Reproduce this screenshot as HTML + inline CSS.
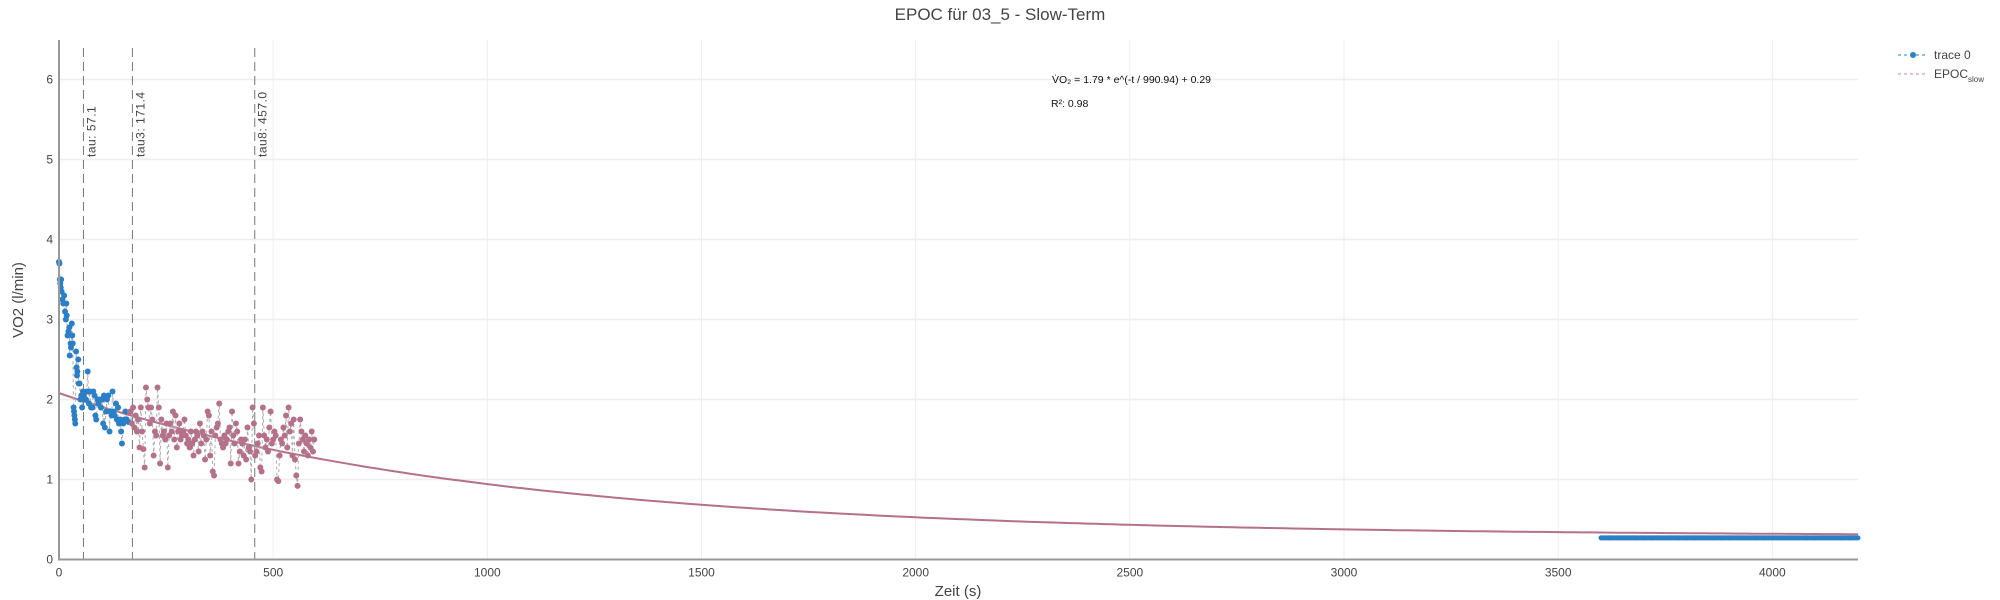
<!DOCTYPE html>
<html><head><meta charset="utf-8"><style>
html,body{margin:0;padding:0;background:#fff;}
svg{display:block;font-family:"Liberation Sans",sans-serif;}
svg text{font-family:"Liberation Sans",sans-serif;}
</style></head><body>
<svg id="chart" width="2000" height="600" viewBox="0 0 2000 600">
<text x="1000" y="20" text-anchor="middle" font-size="17" fill="#444">EPOC für 03_5 - Slow-Term</text>
<g id="grid"></g>
<g id="fit"></g>
<g id="taus"></g>
<g id="series"></g>
<g id="axes"></g>
<text x="1052" y="83" font-size="10.5" fill="#111">V̇O₂ = 1.79 * e^(-t / 990.94) + 0.29</text>
<text x="1051" y="107" font-size="10.5" fill="#111">R²: 0.98</text>
<text x="23" y="300" font-size="15" fill="#444" text-anchor="middle" transform="rotate(-90 23 300)">VO2 (l/min)</text>
<text x="958" y="596" font-size="15" fill="#444" text-anchor="middle">Zeit (s)</text>
<g>
 <g>
  <line x1="1898" y1="55" x2="1928" y2="55" stroke="#2b7fc6" stroke-dasharray="3,3" stroke-width="1"/>
  <circle cx="1913" cy="55" r="3" fill="#2b7fc6"/>
  <text x="1934" y="59" font-size="12" fill="#444">trace 0</text>
 </g>
 <g>
  <line x1="1898" y1="74" x2="1928" y2="74" stroke="#c9879f" stroke-dasharray="3,3" stroke-width="1"/>
  <text x="1934" y="78" font-size="12" fill="#444">EPOC<tspan font-size="8" dy="4">slow</tspan></text>
 </g>
</g>
</svg>
<script>
const xTicks=[0,500,1000,1500,2000,2500,3000,3500,4000];
const yTicks=[0,1,2,3,4,5,6];
const tauValues=[57.1,171.4,457.0];
const tauLabels=["tau: 57.1","tau3: 171.4","tau8: 457.0"];
const fitParams=[1.79,990.94,0.29];
const blueT=[0,1,2,3,4,5,6,8,10,12,14,16,17,18,20,22,24,25,27,28,30,31,32,34,35,36,37,38,40,41,42,43,45,46,48,50,52,54,56,58,60,63,65,67,70,72,75,78,80,83,85,87,90,92,95,98,100,103,105,107,110,112,115,118,120,123,125,128,130,133,135,138,140,143,145,147,150,153,155,158,162];
const blueV=[3.72,3.7,3.5,3.45,3.4,3.5,3.35,3.25,3.2,3.3,3.1,3.0,3.2,3.05,2.8,2.85,2.9,2.55,2.7,2.65,2.95,2.8,2.7,1.9,1.85,1.8,1.75,1.7,2.6,2.4,2.3,2.35,2.5,2.2,2.2,2.0,2.05,1.9,2.1,2.05,2.0,2.0,2.1,2.35,1.95,2.1,1.9,1.9,2.1,2.05,1.8,1.75,2.0,1.95,2.0,1.9,2.0,1.7,2.05,1.65,1.85,2.0,2.05,1.6,1.85,1.8,2.1,1.85,1.8,1.95,1.75,1.9,1.7,1.75,1.6,1.45,1.7,1.75,1.85,1.75,1.72];
const pinkT=[166,170,173,176,179,182,185,188,191,194,197,200,203,206,209,212,215,218,221,224,227,230,233,236,239,242,245,248,251,254,257,260,263,266,269,272,275,278,281,284,287,290,293,296,299,302,305,308,311,314,317,320,323,326,329,332,335,338,341,344,347,350,353,356,359,362,365,368,371,374,377,380,383,386,389,392,395,398,401,404,407,410,413,416,419,422,425,428,431,434,437,440,443,446,449,452,455,458,461,464,467,470,473,476,479,482,485,488,491,494,497,500,503,506,509,512,515,518,521,524,527,530,533,536,539,542,545,548,551,554,557,560,563,566,569,572,575,578,581,584,587,590,593,596];
const pinkV=[1.85,1.7,1.9,1.65,1.8,1.6,1.75,1.4,1.9,1.6,1.38,1.15,2.15,2.0,1.9,1.7,1.9,1.75,1.3,1.6,1.55,2.15,1.9,1.2,1.75,1.55,1.6,1.5,1.7,1.15,1.55,1.7,1.6,1.85,1.5,1.8,1.4,1.6,1.7,1.5,1.55,1.6,1.75,1.55,1.45,1.5,1.4,1.6,1.45,1.3,1.5,1.6,1.55,1.35,1.7,1.45,1.6,1.55,1.25,1.5,1.85,1.8,1.3,1.6,1.1,1.05,1.55,1.65,1.7,1.95,1.5,1.45,1.4,1.55,1.45,1.5,1.6,1.65,1.2,1.85,1.55,1.45,1.7,1.6,1.2,1.35,1.5,1.45,1.3,1.5,1.25,1.65,1.4,1.35,1.0,1.9,1.7,1.3,1.35,1.45,1.55,1.15,1.1,1.9,1.55,1.4,1.5,1.35,1.65,1.85,1.45,1.5,1.6,1.55,1.0,0.98,1.3,1.5,1.45,1.65,1.55,1.8,1.4,1.9,1.6,1.7,1.3,1.75,1.25,1.05,0.92,1.45,1.75,1.6,1.5,1.35,1.55,1.45,1.3,1.5,1.4,1.6,1.35,1.5];
const tailT=[3600,3620,3640,3660,3680,3700,3720,3740,3760,3780,3800,3820,3840,3860,3880,3900,3920,3940,3960,3980,4000,4020,4040,4060,4080,4100,4120,4140,4160,4180,4200];
const tailV=[0.27,0.27,0.27,0.27,0.27,0.27,0.27,0.27,0.27,0.27,0.27,0.27,0.27,0.27,0.27,0.27,0.27,0.27,0.27,0.27,0.27,0.27,0.27,0.27,0.27,0.27,0.27,0.27,0.27,0.27,0.27];

const X0=59,X1=1858,XMAX=4200,Y0=559.5,PPU=80,NS="http://www.w3.org/2000/svg";
const sx=t=>X0+(t/XMAX)*(X1-X0);
const sy=v=>Y0-v*PPU;
function mk(tag,attrs,parent){const e=document.createElementNS(NS,tag);for(const k in attrs)e.setAttribute(k,attrs[k]);parent.appendChild(e);return e;}
const grid=document.getElementById('grid'),axes=document.getElementById('axes'),series=document.getElementById('series'),taus=document.getElementById('taus'),fit=document.getElementById('fit');
xTicks.forEach(t=>{
 const l=mk('line',{x1:sx(t),x2:sx(t),y1:40,y2:Y0,stroke:'#eee','stroke-width':1},grid);
 
 
 const tx=mk('text',{x:sx(t),y:Y0+17,'text-anchor':'middle','font-size':12,fill:'#444'},axes);
 tx.textContent=t;
 
 
});
yTicks.forEach(v=>{
 const l=mk('line',{x1:X0,x2:X1,y1:sy(v),y2:sy(v),stroke:'#eee','stroke-width':1.5},grid);
 
 
 const tx=mk('text',{x:X0-6,y:sy(v)+4,'text-anchor':'end','font-size':12,fill:'#444'},axes);
 tx.textContent=v;
 
 
});
const xa=mk('line',{x1:X0,x2:X1,y1:Y0,y2:Y0,stroke:'#999','stroke-width':2},axes);


const ya=mk('line',{x1:X0,x2:X0,y1:40,y2:Y0+1,stroke:'#999','stroke-width':2},axes);


let d='';for(let t=0;t<=XMAX;t+=20){const v=fitParams[0]*Math.exp(-t/fitParams[1])+fitParams[2];d+=(t?'L':'M')+sx(t).toFixed(1)+','+sy(v).toFixed(1);}
const fp=mk('path',{d:d,fill:'none',stroke:'#b5708a','stroke-width':2},fit);


tauValues.forEach((t,i)=>{
 const l=mk('line',{x1:sx(t),x2:sx(t),y1:48,y2:Y0,stroke:'#777','stroke-width':1,'stroke-dasharray':'9,5'},taus);
 
 
 const x=sx(t)+12,y=157;
 const tx=mk('text',{x:x,y:y,'font-size':12,fill:'#444','letter-spacing':'0.5',transform:`rotate(-90 ${x} ${y})`},taus);
 tx.textContent=tauLabels[i];
 
 
});
function drawSeries(T,V,color,name,r){
 const g=mk('g',{},series);
 
 
 let p='';T.forEach((t,i)=>{p+=(i?'L':'M')+sx(t).toFixed(1)+','+sy(V[i]).toFixed(1);});
 const ln=mk('path',{d:p,fill:'none',stroke:'#aaa','stroke-width':1,'stroke-dasharray':'3,3'},g);
 
 
 T.forEach((t,i)=>{
  const c=mk('circle',{cx:sx(t),cy:sy(V[i]),r:r,fill:color},g);
  
  
 });
}
drawSeries(blueT,blueV,'#2b7fc6','trace0',3);
drawSeries(pinkT,pinkV,'#b5708a','epoc-slow',3);
drawSeries(tailT,tailV,'#2b7fc6','trace0-tail',2.5);
const band=mk('line',{x1:sx(tailT[0]),x2:sx(tailT[tailT.length-1]),y1:sy(tailV[0]),y2:sy(tailV[0]),stroke:'#2b7fc6','stroke-width':5},series);


</script>
</body></html>
